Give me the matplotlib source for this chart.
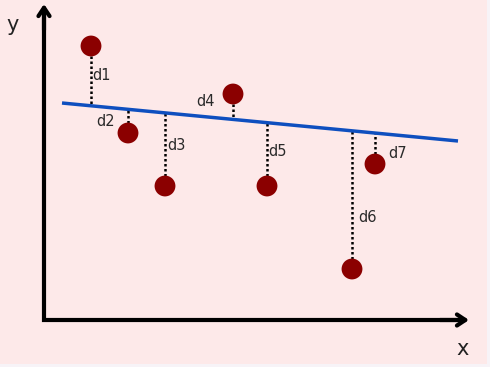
import matplotlib
matplotlib.use("Agg")
import matplotlib.pyplot as plt
from matplotlib.patches import Rectangle

# Data (in drawing units)
labels = ["d1", "d2", "d3", "d4", "d5", "d6", "d7"]
px = [91, 128, 165, 233, 267, 352, 375]
py = [46, 133, 186, 94, 186, 269, 164]
# label positions (left edge, vertical center)
lx = [92, 96, 167, 196, 268, 358, 388]
ly = [75, 121, 145, 102, 151, 217, 153]
# fitted line endpoints
line_x = [62, 458]
line_y = [103, 141]

W, H = 490, 367
fig = plt.figure(figsize=(W / 100, H / 100), dpi=100)
fig.patch.set_facecolor("#f7f3f7")
ax = fig.add_axes([0, 0, 1, 1])
ax.set_xlim(0, W)
ax.set_ylim(H, 0)
ax.axis("off")

ax.add_patch(Rectangle((0, 0), 487, 364, facecolor="#fde9e9", edgecolor="none", zorder=0))

slope = (line_y[1] - line_y[0]) / (line_x[1] - line_x[0])
def line_at(x):
    return line_y[0] + slope * (x - line_x[0])

# axes (L shape) + arrowheads
ax.plot([44, 44, 466], [8, 320, 320], color="black", lw=3, solid_joinstyle="miter",
        solid_capstyle="butt", zorder=3)
ax.annotate("", xy=(44, 4), xytext=(44, 30),
            arrowprops=dict(arrowstyle="->,head_length=0.6,head_width=0.4", lw=3, color="black",
                            shrinkA=0, shrinkB=0), zorder=3)
ax.annotate("", xy=(469, 320), xytext=(440, 320),
            arrowprops=dict(arrowstyle="->,head_length=0.6,head_width=0.4", lw=3, color="black",
                            shrinkA=0, shrinkB=0), zorder=3)
ax.text(13, 25, "y", fontsize=15, ha="center", va="center", color="#222222")
ax.text(463, 349, "x", fontsize=15, ha="center", va="center", color="#222222")

# regression line
ax.plot(line_x, line_y, color="#0e4fbf", lw=2.5, zorder=2, solid_capstyle="butt")

# residuals
for x, y in zip(px, py):
    ax.plot([x, x], [y, line_at(x)], color="black", lw=1.8, ls=(0, (1, 1)), zorder=1)

ax.scatter(px, py, s=15 ** 2, color="#8b0000", zorder=4, edgecolors="none")

for t, x, y in zip(labels, lx, ly):
    ax.text(x, y, t, fontsize=10.5, ha="left", va="center", color="#2a2a2a")

fig.savefig("out.png", dpi=100, facecolor=fig.get_facecolor())
